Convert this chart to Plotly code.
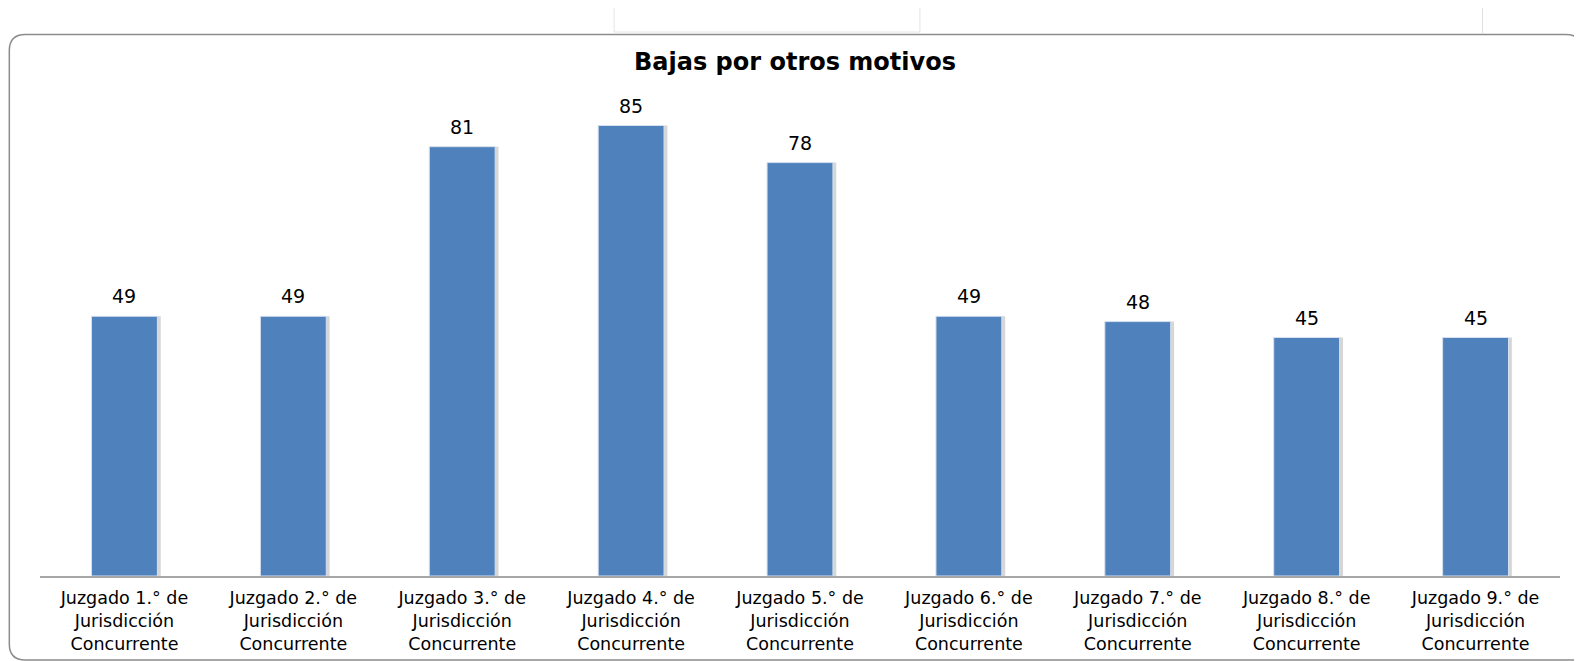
import plotly.graph_objects as go

categories = [
    "Juzgado 1.° de<br>Jurisdicción<br>Concurrente",
    "Juzgado 2.° de<br>Jurisdicción<br>Concurrente",
    "Juzgado 3.° de<br>Jurisdicción<br>Concurrente",
    "Juzgado 4.° de<br>Jurisdicción<br>Concurrente",
    "Juzgado 5.° de<br>Jurisdicción<br>Concurrente",
    "Juzgado 6.° de<br>Jurisdicción<br>Concurrente",
    "Juzgado 7.° de<br>Jurisdicción<br>Concurrente",
    "Juzgado 8.° de<br>Jurisdicción<br>Concurrente",
    "Juzgado 9.° de<br>Jurisdicción<br>Concurrente",
]
values = [49, 49, 81, 85, 78, 49, 48, 45, 45]
title_text = "Bajas por otros motivos"

# page body has an 8px margin: work in page pixels, then shift
OFF = 8
W, H = 1582 - OFF, 661 - OFF
L_PX, R_PX, T_PX, B_PX = 39.5, 1560.5, 99, 576  # plot area in page pixels
ML, MR, MT, MB = L_PX - OFF, 1582 - R_PX, T_PX - OFF, 661 - B_PX
PW = W - ML - MR
PH = H - MT - MB


def px(x):
    return (x - OFF - ML) / PW


def py(y):
    return (H - MB - (y - OFF)) / PH


BAR_W = 0.39
fig = go.Figure()
# soft shadow on the right side of each bar
fig.add_trace(go.Bar(
    x=categories, y=values,
    marker=dict(color="rgba(0,0,0,0.16)", line=dict(width=0)),
    width=BAR_W, offset=-BAR_W / 2 + 0.02,
    hoverinfo="skip",
))
fig.add_trace(go.Bar(
    x=categories, y=values,
    marker=dict(color="#4F81BD", line=dict(color="#D6E0EE", width=1)),
    width=BAR_W, offset=-BAR_W / 2,
))

annotations = [
    dict(x=c, y=v, xref="x", yref="y", text=str(v), showarrow=False,
         yanchor="middle", yshift=20,
         font=dict(family="DejaVu Sans", size=19, color="#000000"))
    for c, v in zip(categories, values)
]

# rounded chart frame
y0, y1 = py(34.5), py(660)
x0 = px(8.8)
rx, ry = 16 / PW, 16 / PH
xr, rrx, rry = px(1584), 18 / PW, 18 / PH
frame = (f"M {x0},{y0 - ry} Q {x0},{y0} {x0 + rx},{y0} L {xr - rrx},{y0} "
         f"Q {xr},{y0} {xr},{y0 - rry} "
         f"M {x0},{y0 - ry} L {x0},{y1 + ry} Q {x0},{y1} {x0 + rx},{y1} L {px(1600)},{y1}")
shapes = [
    dict(type="path", xref="paper", yref="paper", path=frame,
         line=dict(color="#8C8C8C", width=1.5)),
    # faint background artifacts at the top
    dict(type="path", xref="paper", yref="paper",
         path=f"M {px(614)},{py(8)} L {px(614)},{py(32)} L {px(920)},{py(32)} L {px(920)},{py(8)}",
         line=dict(color="#E4E4E4", width=1)),
    dict(type="line", xref="paper", yref="paper", x0=px(1483), x1=px(1483), y0=py(8), y1=py(34),
         line=dict(color="#E0E0E0", width=1)),
]

fig.update_layout(
    width=W, height=H,
    margin=dict(l=ML, r=MR, t=MT, b=MB, pad=0, autoexpand=False),
    paper_bgcolor="white", plot_bgcolor="white",
    showlegend=False,
    barmode="overlay",
    title=dict(text=f"<b>{title_text}</b>", x=0.5, xanchor="center",
               y=1 - (62 - OFF) / H, yanchor="middle",
               font=dict(family="DejaVu Sans", size=24, color="#000000")),
    xaxis=dict(showline=True, linecolor="#A6A6A6", linewidth=2, ticks="",
               showgrid=False, zeroline=False, automargin=False,
               ticklabelstandoff=5,
               tickfont=dict(family="DejaVu Sans", size=17.5, color="#000000")),
    yaxis=dict(range=[0, 90], visible=False, showgrid=False, zeroline=False,
               automargin=False),
    shapes=shapes,
    annotations=annotations,
)

fig.write_html("out.html")
